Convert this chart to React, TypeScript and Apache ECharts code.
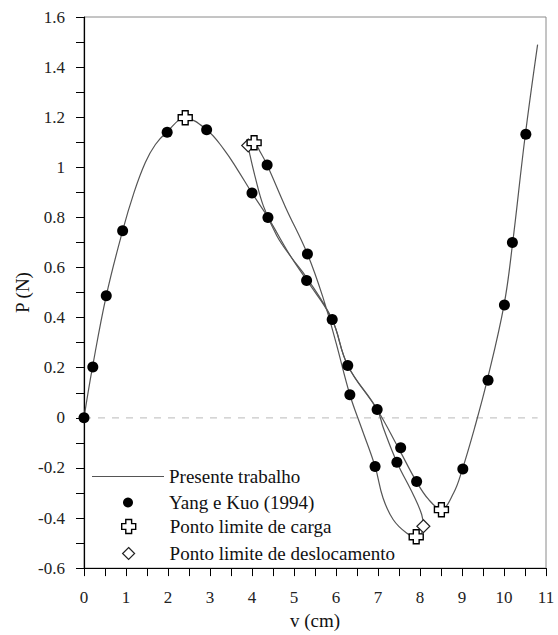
import React, { useEffect, useRef } from "react";
import * as echarts from "echarts";

// Presente trabalho - main equilibrium path
const mainV = [0, 0.2, 0.53, 0.92, 1.19, 1.46, 1.7, 1.98, 2.4, 2.92, 3.33, 3.65, 4.0, 4.38, 4.9, 5.3, 5.9, 6.28, 6.98, 7.5, 7.9, 8.2, 8.5, 8.8, 9.0, 9.3, 9.6, 10.0, 10.2, 10.5, 10.8];
const mainP = [0, 0.2, 0.487, 0.747, 0.899, 1.019, 1.091, 1.142, 1.196, 1.15, 1.072, 0.992, 0.897, 0.8, 0.65, 0.55, 0.395, 0.209, 0.033, -0.125, -0.25, -0.325, -0.365, -0.3, -0.21, -0.04, 0.15, 0.45, 0.69, 1.12, 1.49];

// Presente trabalho - closed loop between limit points
const loopV = [3.91, 3.97, 4.05, 4.2, 4.36, 4.8, 5.32, 5.7, 6.0, 6.33, 6.61, 6.93, 7.12, 7.36, 7.68, 7.91, 8.04, 8.08, 8.04, 7.84, 7.45, 7.13, 6.98, 6.28, 5.9, 5.3, 4.94, 4.59, 4.27, 4.07, 3.95, 3.91];
const loopP = [1.087, 1.1, 1.098, 1.06, 1.009, 0.84, 0.654, 0.475, 0.3, 0.092, -0.042, -0.194, -0.32, -0.406, -0.46, -0.475, -0.46, -0.433, -0.386, -0.307, -0.177, -0.042, 0.033, 0.209, 0.395, 0.56, 0.64, 0.727, 0.846, 0.965, 1.05, 1.087];

// Yang e Kuo (1994)
const dotsV = [0, 0.21, 0.53, 0.92, 1.98, 2.92, 4.0, 4.38, 4.36, 5.32, 5.3, 5.91, 6.28, 6.33, 6.98, 6.93, 7.54, 7.45, 7.92, 9.02, 9.62, 10.01, 10.2, 10.52];
const dotsP = [0, 0.203, 0.487, 0.747, 1.14, 1.15, 0.897, 0.8, 1.009, 0.654, 0.548, 0.392, 0.209, 0.092, 0.033, -0.194, -0.12, -0.177, -0.254, -0.204, 0.15, 0.45, 0.7, 1.132];

// Ponto limite de carga
const cargaV = [2.41, 4.05, 7.91, 8.51];
const cargaP = [1.198, 1.098, -0.475, -0.367];

// Ponto limite de deslocamento
const deslV = [3.91, 8.08];
const deslP = [1.087, -0.433];

// zero reference line
const zeroV = [0, 10.8];
const zeroP = [0, 0];

const zip = (a: number[], b: number[]) => a.map((v, i) => [v, b[i]]);

const SERIF = "Liberation Serif";
const CROSS = "path://M3.5,0H8.5V3.5H12V8.5H8.5V12H3.5V8.5H0V3.5H3.5Z";
const DIAMOND = "path://M6,0L12,6L6,12L0,6Z";
const LINE_ICON = "path://M0,0H72V1.2H0Z";

export default function App() {
  const ref = useRef<HTMLDivElement>(null);
  useEffect(() => {
    if (!ref.current) return;
    const chart = echarts.init(ref.current, undefined, { renderer: "svg" });
    const legendBase = {
      orient: "vertical",
      padding: 0,
      itemWidth: 72,
      selectedMode: false,
      textStyle: { fontFamily: SERIF, fontSize: 19, color: "#111", lineHeight: 10 },
    };
    chart.setOption({
      animation: false,
      backgroundColor: "#fff",
      grid: {
        left: 84,
        top: 17,
        right: 12,
        bottom: 64,
        show: true,
        borderColor: "#8a8a8a",
        borderWidth: 1,
      },
      xAxis: {
        type: "value",
        min: 0,
        max: 11,
        interval: 1,
        name: "v (cm)",
        nameLocation: "middle",
        nameGap: 33,
        nameTextStyle: { fontFamily: SERIF, fontSize: 19, color: "#111" },
        axisLine: { show: true, onZero: false, lineStyle: { color: "#000", width: 1.2 } },
        axisTick: { show: true, length: 8, lineStyle: { color: "#000" } },
        minorTick: { show: true, splitNumber: 2, length: 8, lineStyle: { color: "#000" } },
        splitLine: { show: false },
        axisLabel: { fontFamily: SERIF, fontSize: 17, color: "#222", margin: 21 },
      },
      yAxis: {
        type: "value",
        min: -0.6,
        max: 1.6,
        interval: 0.2,
        name: "P (N)",
        nameLocation: "middle",
        nameGap: 52,
        nameMoveOverlap: false,
        nameTextStyle: { fontFamily: SERIF, fontSize: 19, color: "#111" },
        axisLine: { show: true, onZero: false, lineStyle: { color: "#000", width: 1.2 } },
        axisTick: { show: true, length: 8, lineStyle: { color: "#000" } },
        minorTick: { show: true, splitNumber: 2, length: 8, lineStyle: { color: "#000" } },
        splitLine: { show: false },
        axisLabel: { fontFamily: SERIF, fontSize: 17, color: "#222", margin: 19 },
      },
      legend: [
        {
          ...legendBase,
          left: 92,
          top: 467,
          itemHeight: 14,
          data: [{ name: "Presente trabalho", icon: LINE_ICON }],
          itemStyle: { color: "#555", borderWidth: 0 },
        },
        {
          ...legendBase,
          left: 123,
          top: 493,
          itemHeight: 10,
          data: ["Yang e Kuo (1994)"],
          itemStyle: { color: "#000", borderWidth: 0 },
        },
        {
          ...legendBase,
          left: 121,
          top: 517,
          itemHeight: 14,
          data: ["Ponto limite de carga"],
          itemStyle: { color: "#fff", borderColor: "#000", borderWidth: 1.4 },
        },
        {
          ...legendBase,
          left: 122,
          top: 544,
          itemHeight: 12,
          data: ["Ponto limite de deslocamento"],
          itemStyle: { color: "#fff", borderColor: "#222", borderWidth: 1.2 },
        },
      ],
      series: [
        {
          name: "zero",
          type: "line",
          data: zip(zeroV, zeroP),
          symbol: "none",
          silent: true,
          lineStyle: { color: "#c8c8c8", width: 1.3, type: [7, 7] },
          z: 1,
        },
        {
          name: "Presente trabalho",
          type: "line",
          data: zip(mainV, mainP),
          symbol: "none",
          smooth: 0.4,
          lineStyle: { color: "#555", width: 1.2 },
          z: 2,
        },
        {
          name: "Presente trabalho",
          type: "line",
          data: zip(loopV, loopP),
          symbol: "none",
          smooth: 0.4,
          lineStyle: { color: "#555", width: 1.2 },
          z: 2,
        },
        {
          name: "Yang e Kuo (1994)",
          type: "scatter",
          data: zip(dotsV, dotsP),
          symbol: "circle",
          symbolSize: 11,
          itemStyle: { color: "#000", opacity: 1 },
          z: 3,
        },
        {
          name: "Ponto limite de deslocamento",
          type: "scatter",
          data: zip(deslV, deslP),
          symbol: DIAMOND,
          symbolSize: 13,
          symbolKeepAspect: true,
          itemStyle: { color: "#fff", borderColor: "#222", borderWidth: 1.2, opacity: 1 },
          z: 4,
        },
        {
          name: "Ponto limite de carga",
          type: "scatter",
          data: zip(cargaV, cargaP),
          symbol: CROSS,
          symbolSize: 14,
          symbolKeepAspect: true,
          itemStyle: { color: "#fff", borderColor: "#000", borderWidth: 1.4, opacity: 1 },
          z: 5,
        },
      ],
    });
    return () => chart.dispose();
  }, []);
  return (
    <div
      ref={ref}
      style={{ position: "absolute", left: 0, top: 0, width: 558, height: 635, background: "#fff" }}
    />
  );
}
